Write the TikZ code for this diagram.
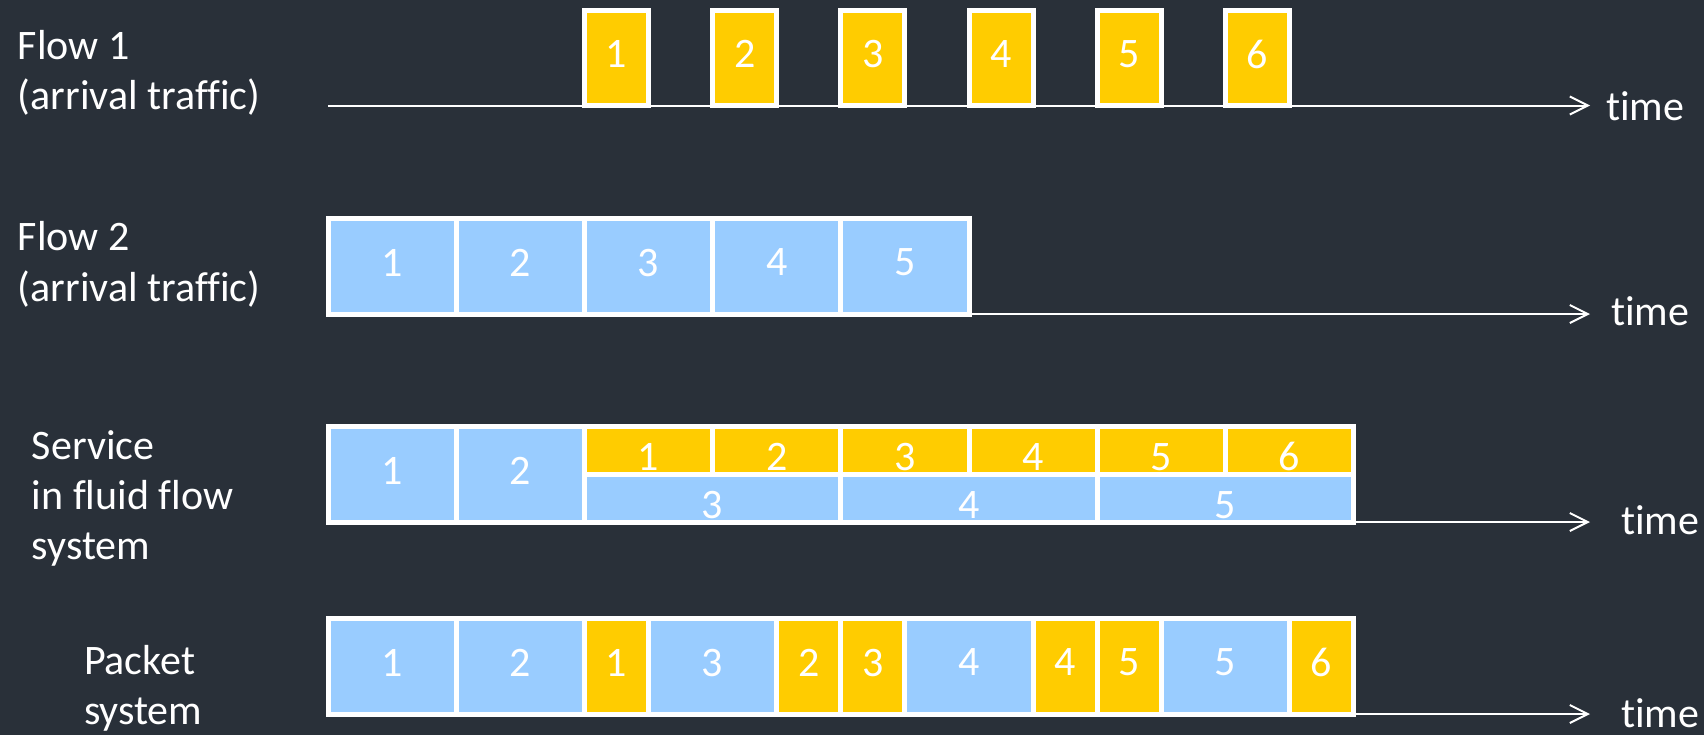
\documentclass[tikz,border=0pt]{standalone}
\usepackage{fontspec}
\setmainfont{Carlito}[Ligatures=NoCommon]
\usetikzlibrary{arrows.meta}
\definecolor{bg}{RGB}{41,48,57}
\definecolor{pyel}{RGB}{255,204,0}
\definecolor{pblu}{RGB}{153,204,255}
\newcommand{\pktcell}[7]{%
  \pgfmathsetmacro{\xa}{328+#3*128.2}%
  \pgfmathsetmacro{\xb}{328+#4*128.2}%
  \pgfmathsetmacro{\cw}{(\xb-\xa)*0.5}%
  \pgfmathsetmacro{\ch}{(#6-#5)*0.5}%
  \node[cell, fill=#2, minimum width=\cw pt, minimum height=\ch pt] (#1) at ({(\xa+\xb)/2},{(#5+#6)/2}) {#7};%
}
\begin{document}
\begin{tikzpicture}[x=0.5pt,y=-0.5pt,
  txt/.style={text=white, font=\fontsize{21}{24}\selectfont, inner sep=0pt, outer sep=0pt},
  cell/.style={txt, draw=white, line width=2.5pt, text depth=3.5pt},
  lbl/.style={txt, anchor=base west},
  dig/.style={txt, anchor=base},
  axis/.style={draw=white, line width=1pt, -{Straight Barb[length=9pt,width=9pt,line join=miter]}}]
\fill[bg] (0,0) rectangle (1704,735);
\useasboundingbox (0,0) rectangle (1704,735);

% Row 1: Flow 1
\coordinate (a1s) at (328,105.5);
\coordinate (a1e) at (1590,105.5);
\draw[axis] (a1s) -- (a1e);
\pktcell{f1p1}{pyel}{2}{2.5}{10}{105}{1}
\pktcell{f1p2}{pyel}{3}{3.5}{10}{105}{2}
\pktcell{f1p3}{pyel}{4}{4.5}{10}{105}{3}
\pktcell{f1p4}{pyel}{5}{5.5}{10}{105}{4}
\pktcell{f1p5}{pyel}{6}{6.5}{10}{105}{5}
\pktcell{f1p6}{pyel}{7}{7.5}{10}{105}{6}
\node[lbl] (l1a) at (18,59) {Flow 1};
\node[lbl] (l1b) at (18,109) {(arrival traffic)};
\node[lbl] (t1) at (1606,120) {time};

% Row 2: Flow 2
\pktcell{f2p1}{pblu}{0}{1}{218}{314}{1}
\pktcell{f2p2}{pblu}{1}{2}{218}{314}{2}
\pktcell{f2p3}{pblu}{2}{3}{218}{314}{3}
\pktcell{f2p4}{pblu}{3}{4}{218}{314}{4}
\pktcell{f2p5}{pblu}{4}{5}{218}{314}{5}
\coordinate (a2e) at (1590,314);
\draw[axis] (f2p5.south east) -- (a2e);
\node[lbl] (l2a) at (18,250) {Flow 2};
\node[lbl] (l2b) at (18,301) {(arrival traffic)};
\node[lbl] (t2) at (1611,325) {time};

% Row 3: fluid flow service
\pktcell{sb1}{pblu}{0}{1}{426}{522}{1}
\pktcell{sb2}{pblu}{1}{2}{426}{522}{2}
\pktcell{sy1}{pyel}{2}{3}{426}{474}{}
\pktcell{sy2}{pyel}{3}{4}{426}{474}{}
\pktcell{sy3}{pyel}{4}{5}{426}{474}{}
\pktcell{sy4}{pyel}{5}{6}{426}{474}{}
\pktcell{sy5}{pyel}{6}{7}{426}{474}{}
\pktcell{sy6}{pyel}{7}{8}{426}{474}{}
\pktcell{sb3}{pblu}{2}{4}{474}{522}{}
\pktcell{sb4}{pblu}{4}{6}{474}{522}{}
\pktcell{sb5}{pblu}{6}{8}{474}{522}{}
\node[dig] (sy1t) at ([yshift=2pt]sy1.south) {1};
\node[dig] (sy2t) at ([yshift=2pt]sy2.south) {2};
\node[dig] (sy3t) at ([yshift=2pt]sy3.south) {3};
\node[dig] (sy4t) at ([yshift=2pt]sy4.south) {4};
\node[dig] (sy5t) at ([yshift=2pt]sy5.south) {5};
\node[dig] (sy6t) at ([yshift=2pt]sy6.south) {6};
\node[dig] (sb3t) at ([yshift=2pt]sb3.south) {3};
\node[dig] (sb4t) at ([yshift=2pt]sb4.south) {4};
\node[dig] (sb5t) at ([yshift=2pt]sb5.south) {5};
\coordinate (a3e) at (1590,522);
\draw[axis] (sb5.south east) -- (a3e);
\node[lbl] (l3a) at (32,459) {Service};
\node[lbl] (l3b) at (32,509) {in fluid flow};
\node[lbl] (l3c) at (32,559) {system};
\node[lbl] (t3) at (1621,534) {time};

% Row 4: packet system
\pktcell{pb1}{pblu}{0}{1}{618}{714}{1}
\pktcell{pb2}{pblu}{1}{2}{618}{714}{2}
\pktcell{py1}{pyel}{2}{2.5}{618}{714}{1}
\pktcell{pb3}{pblu}{2.5}{3.5}{618}{714}{3}
\pktcell{py2}{pyel}{3.5}{4}{618}{714}{2}
\pktcell{py3}{pyel}{4}{4.5}{618}{714}{3}
\pktcell{pb4}{pblu}{4.5}{5.5}{618}{714}{4}
\pktcell{py4}{pyel}{5.5}{6}{618}{714}{4}
\pktcell{py5}{pyel}{6}{6.5}{618}{714}{5}
\pktcell{pb5}{pblu}{6.5}{7.5}{618}{714}{5}
\pktcell{py6}{pyel}{7.5}{8}{618}{714}{6}
\coordinate (a4e) at (1590,714);
\draw[axis] (py6.south east) -- (a4e);
\node[lbl] (l4a) at (84,674) {Packet};
\node[lbl] (l4b) at (84,724) {system};
\node[lbl] (t4) at (1621,727) {time};
\end{tikzpicture}
\end{document}
